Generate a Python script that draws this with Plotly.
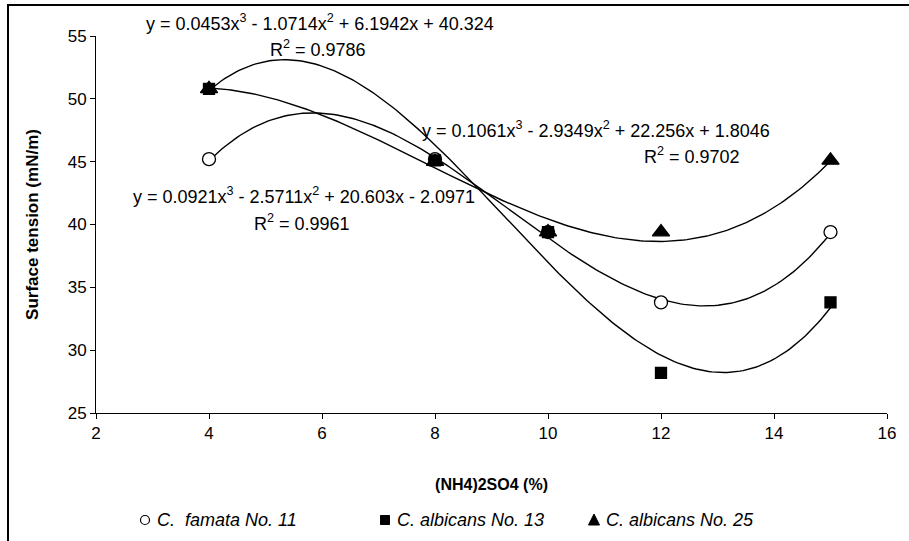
import numpy as np
import plotly.graph_objects as go

# (NH4)2SO4 concentration (%)
conc = [4, 8, 10, 12, 15]

# Surface tension (mN/m) per strain
famata_11 = [45.2, 45.2, 39.4, 33.8, 39.4]
albicans_13 = [50.8, 45.1, 39.4, 28.2, 33.8]
albicans_25 = [50.8, 45.0, 39.4, 39.4, 45.1]

# Cubic trendline coefficients (x^3, x^2, x, const) and R^2
coef_famata_11 = [0.0921, -2.5711, 20.603, -2.0971]
coef_albicans_13 = [0.1061, -2.9349, 22.256, 1.8046]
coef_albicans_25 = [0.0453, -1.0714, 6.1942, 40.324]
r2_famata_11 = 0.9961
r2_albicans_13 = 0.9702
r2_albicans_25 = 0.9786

x_ticks = [2, 4, 6, 8, 10, 12, 14, 16]
y_ticks = [25, 30, 35, 40, 45, 50, 55]

FONT = "Liberation Sans, Arial, sans-serif"

# Plot-area geometry in pixels (used to place paper-referenced items)
left_px, plot_w = 96, 791
bottom_px, plot_h = 413, 377


def px_x(px):
    return (px - left_px) / plot_w


def px_y(py):
    return (bottom_px - py) / plot_h


fig = go.Figure()

xs = np.linspace(min(conc), max(conc), 200)
for coef in (coef_famata_11, coef_albicans_13, coef_albicans_25):
    fig.add_trace(go.Scatter(
        x=xs, y=np.polyval(coef, xs), mode="lines",
        line=dict(color="black", width=1.4),
        showlegend=False, hoverinfo="skip",
    ))

series = [
    ("C.\u00a0 famata No. 11", famata_11, "circle", "white", 13),
    ("C. albicans No. 13", albicans_13, "square", "black", 11),
    ("C. albicans No. 25", albicans_25, "triangle-up", "black", 15),
]
for name, vals, sym, fill, size in series:
    fig.add_trace(go.Scatter(
        x=conc, y=vals, mode="markers", name=name,
        marker=dict(symbol=sym, size=size, color=fill,
                    line=dict(color="black", width=1.3)),
        showlegend=False,
    ))


def equation(coef):
    a, b, c, d = coef
    s = lambda v: "-" if v < 0 else "+"
    return (f"y = {a:g}x<sup>3</sup> {s(b)} {abs(b):g}x<sup>2</sup> "
            f"{s(c)} {abs(c):g}x {s(d)} {abs(d):g}")


eq_font = dict(family=FONT, size=18, color="black")
# (coefficients, R^2, equation left px, equation centre y px, R^2 centre x px, R^2 centre y px)
labels = [
    (coef_albicans_25, r2_albicans_25, 144, 23, 318, 49),
    (coef_famata_11, r2_famata_11, 131, 195, 302, 222),
    (coef_albicans_13, r2_albicans_13, 420, 129, 692, 155),
]
for coef, r2, ex, ey, rx, ry in labels:
    fig.add_annotation(x=px_x(ex), y=px_y(ey), xref="paper", yref="paper",
                       text=equation(coef), showarrow=False,
                       xanchor="left", yanchor="middle", font=eq_font)
    fig.add_annotation(x=px_x(rx), y=px_y(ry), xref="paper", yref="paper",
                       text=f"R<sup>2</sup> = {r2:.4f}", showarrow=False,
                       xanchor="center", yanchor="middle", font=eq_font)

# Legend row beneath the x-axis title
leg_y = px_y(520)
leg_items = [
    ("circle", 145, "C.\u00a0 famata No. 11"),
    ("square", 385, "C. albicans No. 13"),
    ("triangle", 594, "C. albicans No. 25"),
]
for kind, cx, label in leg_items:
    xa = px_x(cx)
    common = dict(xref="paper", yref="paper", xsizemode="pixel",
                  ysizemode="pixel", xanchor=xa, yanchor=leg_y)
    if kind == "circle":
        fig.add_shape(type="circle", x0=-4.5, x1=4.5, y0=-4.5, y1=4.5,
                      line=dict(color="black", width=1.2), fillcolor="white",
                      **common)
    elif kind == "square":
        fig.add_shape(type="rect", x0=-4.5, x1=4.5, y0=-4.5, y1=4.5,
                      line=dict(color="black", width=1), fillcolor="black",
                      **common)
    else:
        fig.add_shape(type="path", path="M -5.5 -5 L 5.5 -5 L 0 6 Z",
                      line=dict(color="black", width=1), fillcolor="black",
                      **common)
    fig.add_annotation(x=px_x(cx + 10), y=leg_y, xref="paper", yref="paper",
                       text=f"<i>{label}</i>", showarrow=False,
                       xanchor="left", yanchor="middle",
                       font=dict(family=FONT, size=18, color="black"))

# Outer chart frame
fig.add_shape(type="rect", xref="paper", yref="paper",
              x0=px_x(8), x1=1.2, y0=-0.6, y1=px_y(5),
              line=dict(color="black", width=2), fillcolor="rgba(0,0,0,0)",
              layer="below")

axis_common = dict(
    showgrid=False, zeroline=False, showline=True, linecolor="black",
    linewidth=1, ticks="outside", ticklen=5, tickcolor="black", tickwidth=1,
    tickfont=dict(family=FONT, size=17, color="black"),
)

fig.update_layout(
    width=909, height=541,
    margin=dict(l=left_px, r=909 - left_px - plot_w, t=bottom_px - plot_h,
                b=541 - bottom_px),
    paper_bgcolor="white", plot_bgcolor="white",
    font=dict(family=FONT, color="black"),
    xaxis=dict(range=[2, 16], tickvals=x_ticks,
               title=dict(text="<b>(NH4)2SO4 (%)</b>",
                          font=dict(family=FONT, size=16), standoff=36),
               **axis_common),
    yaxis=dict(range=[25, 55], tickvals=y_ticks,
               title=dict(text="<b>Surface tension (mN/m)</b>",
                          font=dict(family=FONT, size=17), standoff=24),
               **axis_common),
    showlegend=False,
)

fig.write_html("out.html")
